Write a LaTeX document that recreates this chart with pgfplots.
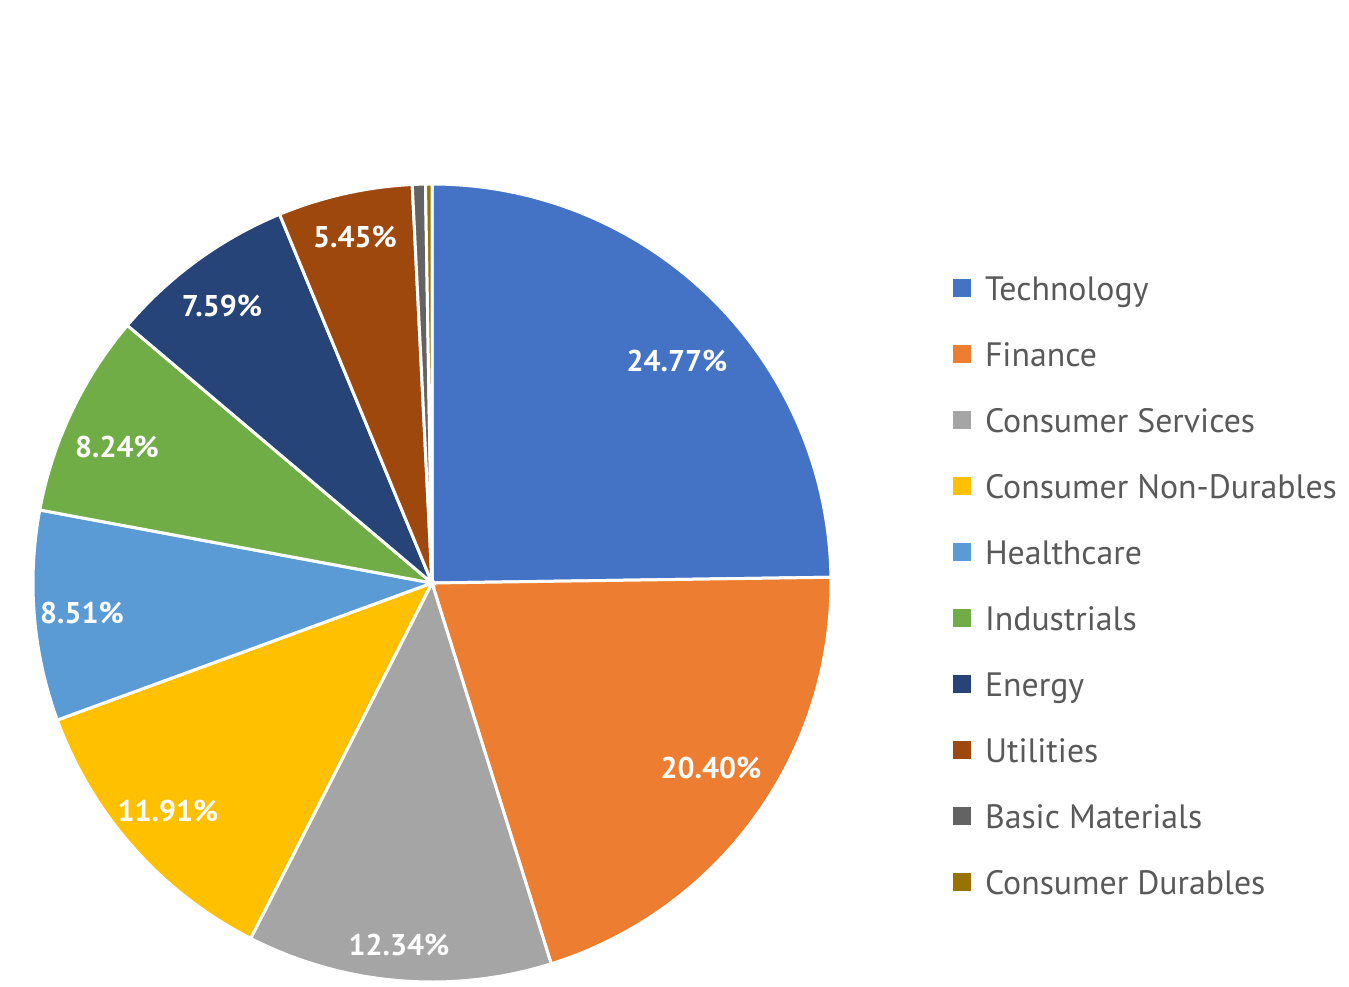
\documentclass[border=0pt]{standalone}
\usepackage{pgfplots}
\pgfplotsset{compat=1.18}
\usepackage{fontspec}
\setmainfont{PT Sans}
\definecolor{cTech}{HTML}{4472C4}
\definecolor{cFin}{HTML}{ED7D31}
\definecolor{cCS}{HTML}{A5A5A5}
\definecolor{cCND}{HTML}{FFC000}
\definecolor{cHealth}{HTML}{5B9BD5}
\definecolor{cInd}{HTML}{70AD47}
\definecolor{cEnergy}{HTML}{264478}
\definecolor{cUtil}{HTML}{9E480E}
\definecolor{cBM}{HTML}{636363}
\definecolor{cCD}{HTML}{997300}
\definecolor{legtext}{HTML}{595959}
% Shares (percent), clockwise from 12 o'clock:
% Technology 24.77, Finance 20.40, Consumer Services 12.34, Consumer Non-Durables 11.91,
% Healthcare 8.51, Industrials 8.24, Energy 7.59, Utilities 5.45, Basic Materials 0.53, Consumer Durables 0.26
% Slice boundary angles = 90 - 3.6 * cumulative share
\begin{document}
\begin{tikzpicture}
\begin{axis}[
  x=0.5pt, y=0.5pt, xmin=0, xmax=1349, ymin=0, ymax=986, y dir=reverse,
  hide axis, clip=false, scale only axis,
  legend style={draw=none, fill=none, inner sep=0pt, outer sep=0pt,
    at={(axis cs:953,272)}, anchor=north west,
    font=\fontsize{16.9}{20}\selectfont, text=legtext,
    row sep=14pt, column sep=7pt,
    nodes={inner sep=0pt, text height=14pt, text depth=5pt},
    cells={anchor=west}},
  legend image code/.code={\fill[#1,draw=none] (0pt,-3pt) rectangle (9pt,6pt);},
]
\addplot[fill=cTech, draw=white, line width=1.5pt, domain=0.828:90, samples=90] ({432+399*cos(x)},{583-399*sin(x)}) -- (axis cs:432,583) -- cycle;
\addplot[fill=cFin, draw=white, line width=1.5pt, domain=-72.612:0.828, samples=80] ({432+399*cos(x)},{583-399*sin(x)}) -- (axis cs:432,583) -- cycle;
\addplot[fill=cCS, draw=white, line width=1.5pt, domain=-117.036:-72.612, samples=50] ({432+399*cos(x)},{583-399*sin(x)}) -- (axis cs:432,583) -- cycle;
\addplot[fill=cCND, draw=white, line width=1.5pt, domain=-159.912:-117.036, samples=50] ({432+399*cos(x)},{583-399*sin(x)}) -- (axis cs:432,583) -- cycle;
\addplot[fill=cHealth, draw=white, line width=1.5pt, domain=-190.548:-159.912, samples=40] ({432+399*cos(x)},{583-399*sin(x)}) -- (axis cs:432,583) -- cycle;
\addplot[fill=cInd, draw=white, line width=1.5pt, domain=-220.212:-190.548, samples=40] ({432+399*cos(x)},{583-399*sin(x)}) -- (axis cs:432,583) -- cycle;
\addplot[fill=cEnergy, draw=white, line width=1.5pt, domain=-247.536:-220.212, samples=40] ({432+399*cos(x)},{583-399*sin(x)}) -- (axis cs:432,583) -- cycle;
\addplot[fill=cUtil, draw=white, line width=1.5pt, domain=-267.156:-247.536, samples=30] ({432+399*cos(x)},{583-399*sin(x)}) -- (axis cs:432,583) -- cycle;
\addplot[fill=cBM, draw=white, line width=1.5pt, domain=-269.064:-267.156, samples=5] ({432+399*cos(x)},{583-399*sin(x)}) -- (axis cs:432,583) -- cycle;
\addplot[fill=cCD, draw=white, line width=1.5pt, domain=-270:-269.064, samples=5] ({432+399*cos(x)},{583-399*sin(x)}) -- (axis cs:432,583) -- cycle;
\legend{Technology, Finance, Consumer Services, Consumer Non-Durables, Healthcare, Industrials, Energy, Utilities, Basic Materials, Consumer Durables}
\begin{scope}[every node/.style={font=\fontsize{15}{18}\selectfont\bfseries, text=white, inner sep=0pt}]
\node at (axis cs:677,361) {24.77\%};
\node at (axis cs:711,768) {20.40\%};
\node at (axis cs:399,945) {12.34\%};
\node at (axis cs:168,811) {11.91\%};
\node at (axis cs:82,613) {8.51\%};
\node at (axis cs:117,447) {8.24\%};
\node at (axis cs:222,306) {7.59\%};
\node at (axis cs:355,237) {5.45\%};
\end{scope}
\path (axis cs:0,0) rectangle (axis cs:1349,986);
\end{axis}
\end{tikzpicture}
\end{document}
